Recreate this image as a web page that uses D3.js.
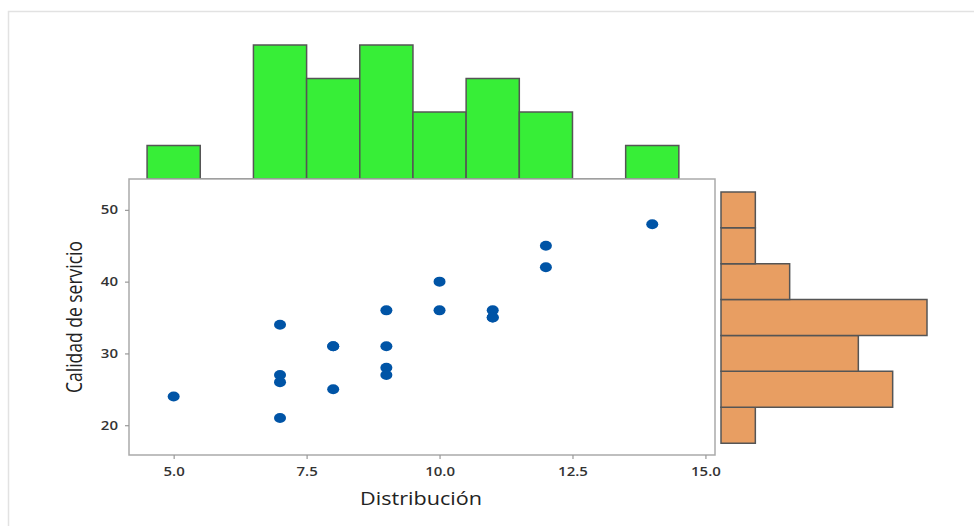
<!DOCTYPE html>
<html>
<head>
<meta charset="utf-8">
<script src="https://cdn.jsdelivr.net/npm/d3@7"></script>
<style>
  html, body { margin: 0; padding: 0; background: #fff; }
  svg { display: block; font-family: "Open Sans", "Noto Sans", sans-serif; }
</style>
</head>
<body>
<svg id="chart" width="974" height="526"></svg>
<script>
// Observations: Distribución (x) vs Calidad de servicio (y)
const distribucion = [5, 7, 7, 7, 7, 8, 8, 8, 9, 9, 9, 9, 10, 10, 11, 11, 11, 12, 12, 14];
const calidad      = [24, 34, 27, 26, 21, 31, 31, 25, 36, 31, 28, 27, 40, 36, 36, 35, 35, 45, 42, 48];

const xTicks = [5, 7.5, 10, 12.5, 15];
const yTicks = [20, 30, 40, 50];
const xLabel = "Distribución";
const yLabel = "Calidad de servicio";

const points = distribucion.map((d, i) => ({ x: d, y: calidad[i] }));

// Text is drawn slightly wide, like the rest of the layout
const STRETCH = 1.2;

const svg = d3.select("#chart");

// Outer frame
svg.append("rect")
  .attr("x", 8.5).attr("y", 11.5)
  .attr("width", 1000).attr("height", 600)
  .attr("fill", "none").attr("stroke", "#e2e2e2").attr("stroke-width", 1.5);

// Main scatter panel
const panel = { left: 129, right: 715, top: 179, bottom: 455 };
const x = d3.scaleLinear().domain([4.16, 15.18]).range([panel.left, panel.right]);
const y = d3.scaleLinear().domain([15.85, 54.3]).range([panel.bottom, panel.top]);

// Histogram bins
const xBins = d3.bin().domain([4.5, 14.5]).thresholds(d3.range(5.5, 14.5, 1))(distribucion);
const yBins = d3.bin().domain([17.5, 52.5]).thresholds(d3.range(22.5, 52.5, 5))(calidad);

const topCount = d3.scaleLinear().domain([0, 4]).range([panel.top, 45]);
const rightCount = d3.scaleLinear().domain([0, 6]).range([721, 927]);

const rectPath = (x0, y0, x1, y1) => `M${x0},${y0}H${x1}V${y1}H${x0}Z`;

// Top histogram (Distribución)
svg.append("g").selectAll("path")
  .data(xBins)
  .join("path")
  .attr("d", b => rectPath(x(b.x0), topCount(0), x(b.x1), topCount(b.length)))
  .attr("fill", b => b.length ? "#37ee37" : "none")
  .attr("stroke", "#555")
  .attr("stroke-width", 1.5);

// Right histogram (Calidad de servicio)
svg.append("g").selectAll("path")
  .data(yBins)
  .join("path")
  .attr("d", b => rectPath(rightCount(0), y(b.x1), rightCount(b.length), y(b.x0)))
  .attr("fill", "#e89e62")
  .attr("stroke", "#555")
  .attr("stroke-width", 1.5);

// Panel frame
svg.append("rect")
  .attr("x", panel.left).attr("y", panel.top)
  .attr("width", panel.right - panel.left).attr("height", panel.bottom - panel.top)
  .attr("fill", "#fff").attr("stroke", "#aaa").attr("stroke-width", 1.5);

// Axes
const xAxis = svg.append("g")
  .attr("transform", `translate(0,${panel.bottom})`)
  .call(d3.axisBottom(x).tickValues(xTicks).tickFormat(d3.format(".1f")).tickSize(4).tickPadding(8));
const yAxis = svg.append("g")
  .attr("transform", `translate(${panel.left},0)`)
  .call(d3.axisLeft(y).tickValues(yTicks).tickSize(4).tickPadding(7));

[xAxis, yAxis].forEach(g => {
  g.select(".domain").remove();
  g.selectAll(".tick line").attr("stroke", "#999").attr("stroke-width", 1.2);
  g.selectAll(".tick text")
    .attr("fill", "#333")
    .style("font-size", "12.5px")
    .style("font-weight", "600")
    .style("font-family", "'Open Sans', 'Noto Sans', sans-serif");
});
xAxis.selectAll(".tick text").attr("transform", `scale(${STRETCH},1)`);
yAxis.selectAll(".tick text")
  .attr("x", -11 / STRETCH)
  .attr("transform", `scale(${STRETCH},1)`);

// Points
svg.append("g").selectAll("ellipse")
  .data(points)
  .join("ellipse")
  .attr("cx", d => x(d.x))
  .attr("cy", d => y(d.y))
  .attr("rx", 6)
  .attr("ry", 5)
  .attr("fill", "#0054a6");

// Axis titles
svg.append("text")
  .attr("transform", `translate(${(panel.left + panel.right) / 2 - 1},505) scale(${STRETCH},1)`)
  .attr("text-anchor", "middle")
  .attr("fill", "#222")
  .style("font-size", "18px")
  .text(xLabel);

svg.append("text")
  .attr("transform", `translate(82,${(panel.top + panel.bottom) / 2}) scale(${STRETCH},1) rotate(-90)`)
  .attr("text-anchor", "middle")
  .attr("fill", "#222")
  .style("font-size", "17.5px")
  .text(yLabel);
</script>
</body>
</html>
